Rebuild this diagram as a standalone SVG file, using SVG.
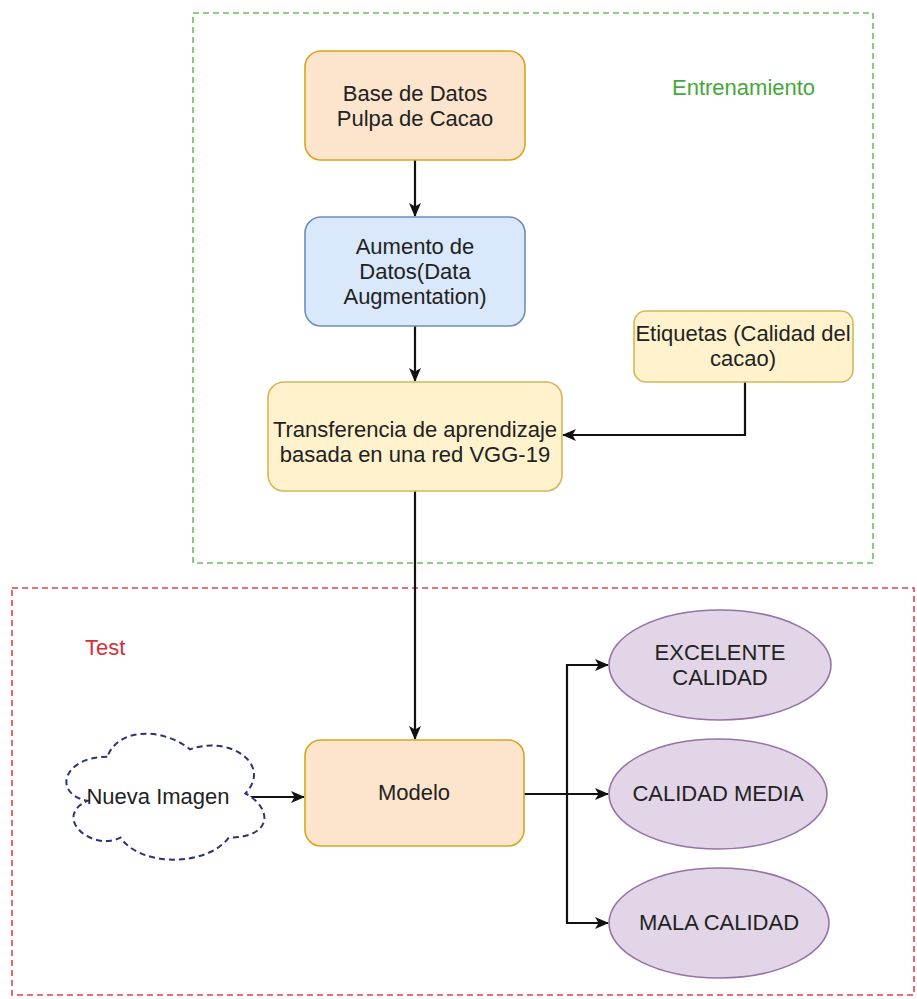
<svg xmlns="http://www.w3.org/2000/svg" width="917" height="999" viewBox="0 0 917 999">
<defs>
<marker id="arr" markerWidth="14" markerHeight="12" refX="13" refY="6" orient="auto" markerUnits="userSpaceOnUse">
<path d="M0,0 L14,6 L0,12 L3.5,6 Z" fill="#111"/>
</marker>
<style>
text{font-family:"Liberation Sans",Arial,sans-serif;font-size:22px;fill:#222;text-anchor:middle}
.edge{fill:none;stroke:#111;stroke-width:2.2}
.orange{fill:#fde5cd;stroke:#d9a520;stroke-width:1.6}
.blue{fill:#dae8fc;stroke:#6c8ebf;stroke-width:1.6}
.yellow{fill:#fff2cc;stroke:#d6b656;stroke-width:1.6}
.purple{fill:#e1d5e7;stroke:#9673a6;stroke-width:1.6}
</style>
</defs>
<rect width="917" height="999" fill="#fff"/>
<g id="entrenamiento-frame">
<rect x="193" y="13" width="680" height="550" fill="none" stroke="#6cbf5c" stroke-width="1.6" stroke-dasharray="6,4"/>
<text x="672" y="95" style="fill:#45a83a;text-anchor:start">Entrenamiento</text>
</g>
<g id="test-frame">
<rect x="12" y="588" width="902" height="407" fill="none" stroke="#e0424c" stroke-width="1.6" stroke-dasharray="6,4"/>
<text x="85" y="655" style="fill:#d6303c;text-anchor:start">Test</text>
</g>
<g id="connectors">
<path class="edge" d="M415,160 L415,216" marker-end="url(#arr)"/>
<path class="edge" d="M415,326 L415,381" marker-end="url(#arr)"/>
<path class="edge" d="M745,382 L745,435 L563,435" marker-end="url(#arr)"/>
<path class="edge" d="M415,491 L415,739" marker-end="url(#arr)"/>
<path class="edge" d="M245,797 L304,797" marker-end="url(#arr)"/>
<path class="edge" d="M524,794 L567,794 L567,665 L608,665" marker-end="url(#arr)"/>
<path class="edge" d="M567,794 L608,794" marker-end="url(#arr)"/>
<path class="edge" d="M567,794 L567,923 L608,923" marker-end="url(#arr)"/>
</g>
<g id="base-datos">
<rect class="orange" x="305" y="51" width="220" height="109" rx="16"/>
<text x="415" y="101">Base de Datos</text>
<text x="415" y="126">Pulpa de Cacao</text>
</g>
<g id="aumento">
<rect class="blue" x="305" y="217" width="220" height="109" rx="16"/>
<text x="415" y="254">Aumento de</text>
<text x="415" y="279">Datos(Data</text>
<text x="415" y="304">Augmentation)</text>
</g>
<g id="transferencia">
<rect class="yellow" x="268" y="382" width="294" height="109" rx="16"/>
<text x="415" y="437">Transferencia de aprendizaje</text>
<text x="415" y="462">basada en una red VGG-19</text>
</g>
<g id="etiquetas">
<rect class="yellow" x="634" y="311" width="219" height="71" rx="12"/>
<text x="743" y="341">Etiquetas (Calidad del</text>
<text x="743" y="366">cacao)</text>
</g>
<g id="modelo">
<rect class="orange" x="305" y="740" width="219" height="106" rx="16"/>
<text x="414" y="800">Modelo</text>
</g>
<g id="nueva-imagen">
<path d="M107.25,756.75 C63.05,756.75 52,793.5 87.36,800.85 C52,817 91.8,852.3 120.5,837.6 C140.4,867 206.7,867 228.8,837.6 C273,837.6 273,808.2 245.4,793.5 C273,764.1 228.8,734.7 190.1,749.4 C162.5,727.35 118.3,727.35 107.25,756.75 Z" fill="#fff" stroke="#2e3178" stroke-width="2" stroke-dasharray="6,4"/>
<text x="158" y="804">Nueva Imagen</text>
</g>
<g id="excelente">
<ellipse class="purple" cx="720" cy="665" rx="111" ry="55"/>
<text x="720" y="660">EXCELENTE</text>
<text x="720" y="685">CALIDAD</text>
</g>
<g id="media">
<ellipse class="purple" cx="718" cy="794" rx="109" ry="55"/>
<text x="718" y="801">CALIDAD MEDIA</text>
</g>
<g id="mala">
<ellipse class="purple" cx="719" cy="923" rx="110" ry="55"/>
<text x="719" y="930">MALA CALIDAD</text>
</g>
</svg>
